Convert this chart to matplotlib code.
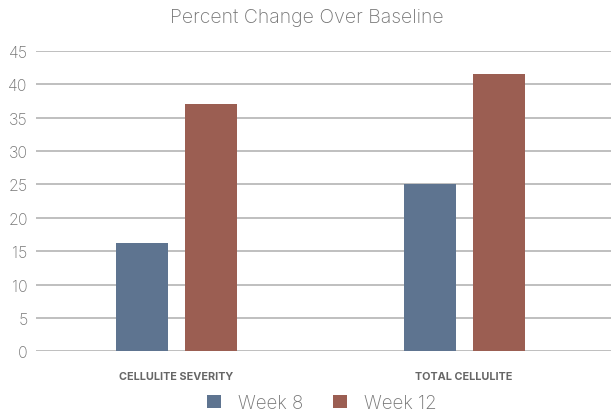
import matplotlib
matplotlib.use("Agg")
import matplotlib.pyplot as plt
import numpy as np

categories = ["CELLULITE SEVERITY", "TOTAL CELLULITE"]
series_names = ["Week 8", "Week 12"]
week8 = [16.2, 25.0]
week12 = [37.0, 41.6]
yticks = [0, 5, 10, 15, 20, 25, 30, 35, 40, 45]

colors = ["#5E7490", "#9B5E52"]
text_gray = "#757575"

fig = plt.figure(figsize=(6.13, 4.14), dpi=100)
ax = fig.add_axes([36/613, 1-352.3/414, 575/613, 300.3/414])

x = np.arange(len(categories))
w = 0.181
off = 0.12
b1 = ax.bar(x - off, week8, width=w, color=colors[0], label=series_names[0], zorder=3)
b2 = ax.bar(x + off, week12, width=w, color=colors[1], label=series_names[1], zorder=3)

ax.set_xlim(-0.489, 1.511)
ax.set_ylim(0, 45)
ax.set_yticks(yticks)
ax.set_yticklabels([str(t) for t in yticks], fontfamily="Inter", fontweight="light",
                   fontsize=11.5, color=text_gray)
ax.set_xticks(x)
ax.set_xticklabels(categories, fontfamily="Inter", fontweight="bold", fontsize=7.8,
                   color="#666666")
ax.tick_params(axis="both", length=0)
ax.tick_params(axis="y", pad=6)
ax.tick_params(axis="x", pad=14)
ax.grid(axis="y", color="#b4b4b4", linewidth=1.2, zorder=0)
ax.set_axisbelow(True)
for s in ax.spines.values():
    s.set_visible(False)

fig.text(0.5, 1-18/414, "Percent Change Over Baseline", ha="center", va="center",
         fontfamily="Inter", fontweight="light", fontsize=14, color=text_gray)

leg = fig.legend(handles=[b1, b2], labels=series_names, loc="center",
                 bbox_to_anchor=(322/613, 1-404/414), ncol=2, frameon=False,
                 prop={"family": "Inter", "weight": "light", "size": 13.5},
                 handlelength=0.75, handleheight=0.75, handletextpad=0.9,
                 columnspacing=1.6)
for t in leg.get_texts():
    t.set_color(text_gray)

fig.savefig("out.png", dpi=100)
